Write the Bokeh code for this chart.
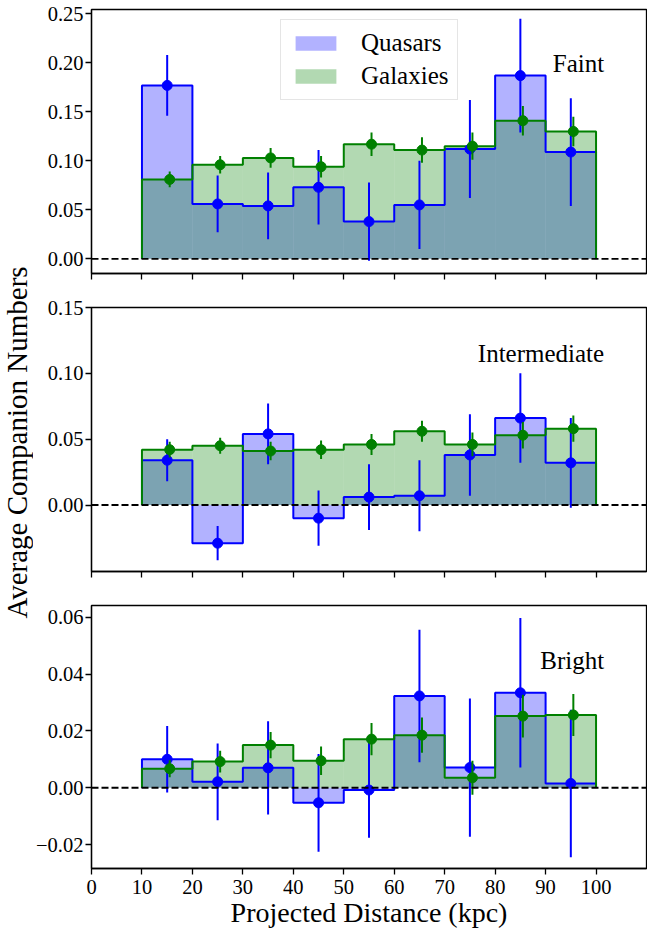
import numpy as np
from bokeh.plotting import figure
from bokeh.layouts import column, row
from bokeh.models import (Span, FixedTicker, CustomJSTickFormatter, Legend, LegendItem,
                          Range1d, Label, CustomLabelingPolicy)
from bokeh.embed import file_html
from bokeh.resources import INLINE
from bokeh.core.properties import value

# ---------------- data ----------------
bin_left = [10, 20, 30, 40, 50, 60, 70, 80, 90]
bin_right = [20, 30, 40, 50, 60, 70, 80, 90, 100]
bin_center = [15, 25, 35, 45, 55, 65, 75, 85, 95]

faint_qso = [0.177, 0.056, 0.054, 0.073, 0.038, 0.055, 0.112, 0.187, 0.109]
faint_qso_err = [0.031, 0.029, 0.034, 0.038, 0.040, 0.045, 0.050, 0.058, 0.055]
faint_gal = [0.081, 0.096, 0.103, 0.094, 0.117, 0.111, 0.115, 0.141, 0.130]
faint_gal_err = [0.008, 0.009, 0.010, 0.011, 0.012, 0.013, 0.014, 0.015, 0.015]

inter_qso = [0.034, -0.029, 0.054, -0.010, 0.006, 0.007, 0.038, 0.066, 0.032]
inter_qso_err = [0.016, 0.013, 0.023, 0.021, 0.025, 0.027, 0.031, 0.034, 0.034]
inter_gal = [0.042, 0.045, 0.041, 0.042, 0.046, 0.056, 0.046, 0.053, 0.058]
inter_gal_err = [0.006, 0.006, 0.007, 0.007, 0.008, 0.008, 0.009, 0.010, 0.010]

bright_qso = [0.0100, 0.0021, 0.0070, -0.0053, -0.0008, 0.0323, 0.0071, 0.0334, 0.0015]
bright_qso_err = [0.0117, 0.0135, 0.0164, 0.0172, 0.0168, 0.0233, 0.0243, 0.0263, 0.0259]
bright_gal = [0.0067, 0.0092, 0.0150, 0.0095, 0.0171, 0.0185, 0.0035, 0.0252, 0.0256]
bright_gal_err = [0.0030, 0.0038, 0.0046, 0.0050, 0.0057, 0.0062, 0.0060, 0.0075, 0.0074]

x_ticks = [0, 10, 20, 30, 40, 50, 60, 70, 80, 90, 100]
faint_ticks = [0.0, 0.05, 0.10, 0.15, 0.20, 0.25]
inter_ticks = [0.0, 0.05, 0.10, 0.15]
bright_ticks = [-0.02, 0.0, 0.02, 0.04, 0.06]

# ---------------- style ----------------
FONT = "Liberation Serif"
QCOL = "#0000ff"
GCOL = "#008000"
LEFT_W = 33
PANEL_W = 647 - LEFT_W
BORDER_L = 91 - LEFT_W
GAL_OFFSET = 0.5
TICK_FS = "20.5px"

fmt = CustomJSTickFormatter(code="return tick.toFixed(2).replace('-', '\u2212');")


def step_xy(vals):
    xs, ys = [bin_left[0]], [0.0]
    for l, r, v in zip(bin_left, bin_right, vals):
        xs += [l, r]
        ys += [v, v]
    xs.append(bin_right[-1])
    ys.append(0.0)
    return xs, ys


def make_panel(q, qe, g, ge, yr, yticks, name, name_y, height, btop, bbot,
               xlabels=False, legend=False):
    p = figure(width=PANEL_W, height=height, output_backend="svg", toolbar_location=None,
               x_range=Range1d(0, 110), y_range=Range1d(*yr),
               min_border_left=BORDER_L, min_border_right=1, min_border_top=btop,
               min_border_bottom=bbot)
    p.grid.visible = False
    p.outline_line_color = "black"
    p.outline_line_width = 1.3
    p.outline_line_alpha = 1
    p.background_fill_color = "white"

    qf = p.quad(left=bin_left, right=bin_right, bottom=0, top=q,
                fill_color=QCOL, fill_alpha=0.3, line_color=None)
    gf = p.quad(left=bin_left, right=bin_right, bottom=0, top=g,
                fill_color=GCOL, fill_alpha=0.3, line_color=None)
    p.add_layout(Span(location=0, dimension="width", line_color="black",
                      line_dash="7 3", line_width=1.8))
    xs, ys = step_xy(q)
    p.line(xs, ys, line_color=QCOL, line_width=2)
    xs, ys = step_xy(g)
    p.line(xs, ys, line_color=GCOL, line_width=2)

    qlo = [v - e for v, e in zip(q, qe)]
    qhi = [v + e for v, e in zip(q, qe)]
    p.segment(x0=bin_center, y0=qlo, x1=bin_center, y1=qhi, line_color=QCOL, line_width=2)
    p.scatter(bin_center, q, size=10, color=QCOL)
    gx = [c + GAL_OFFSET for c in bin_center]
    glo = [v - e for v, e in zip(g, ge)]
    ghi = [v + e for v, e in zip(g, ge)]
    p.segment(x0=gx, y0=glo, x1=gx, y1=ghi, line_color=GCOL, line_width=2)
    p.scatter(gx, g, size=10, color=GCOL)

    p.add_layout(Label(x=101.6, y=name_y, text=name, text_align="right",
                       text_baseline="alphabetic", text_font=FONT,
                       text_font_size="25px", text_color="black"))

    for ax in (p.xaxis[0], p.yaxis[0]):
        ax.axis_line_color = "black"
        ax.axis_line_width = 1.3
        ax.major_tick_line_color = "black"
        ax.major_tick_line_width = 1.3
        ax.major_tick_out = 6
        ax.major_tick_in = 0
        ax.minor_tick_out = 0
        ax.minor_tick_in = 0
        ax.major_label_text_font = FONT
        ax.major_label_text_font_size = TICK_FS
        ax.major_label_text_color = "black"
    p.xaxis.ticker = FixedTicker(ticks=x_ticks)
    p.yaxis.ticker = FixedTicker(ticks=yticks)
    p.yaxis.formatter = fmt
    p.yaxis.major_label_standoff = 2
    if xlabels:
        p.xaxis.axis_label = "Projected Distance (kpc)"
        p.xaxis.axis_label_text_font = FONT
        p.xaxis.axis_label_text_font_size = "28px"
        p.xaxis.axis_label_text_font_style = "normal"
        p.xaxis.axis_label_text_color = "black"
        p.xaxis.axis_label_standoff = 0
        p.xaxis.major_label_standoff = 5
    else:
        p.xaxis.major_label_text_font_size = "0px"
        p.xaxis.major_label_standoff = 0
        p.xaxis.major_label_policy = CustomLabelingPolicy(
            code="for (const i of Array.from(indices)) { indices.unset(i) } return indices")

    if legend:
        lg = Legend(items=[LegendItem(label="Quasars", renderers=[qf]),
                           LegendItem(label="Galaxies", renderers=[gf])],
                    location=(189, 173), orientation="vertical")
        lg.label_text_font = FONT
        lg.label_text_font_size = "25px"
        lg.label_text_color = "black"
        lg.glyph_width = 51
        lg.glyph_height = 18
        lg.label_height = 18
        lg.label_standoff = 20
        lg.padding = 9
        lg.spacing = 5
        lg.margin = 0
        lg.border_line_color = "#cccccc"
        lg.border_line_width = 1
        lg.background_fill_alpha = 0.8
        p.add_layout(lg)
    return p


p1 = make_panel(faint_qso, faint_qso_err, faint_gal, faint_gal_err, (-0.015, 0.2545),
                faint_ticks, "Faint", 0.199, 290, 9, 17, legend=True)
p2 = make_panel(inter_qso, inter_qso_err, inter_gal, inter_gal_err, (-0.0505, 0.15),
                inter_ticks, "Intermediate", 0.1147, 298, 17, 17)
p3 = make_panel(bright_qso, bright_qso_err, bright_gal, bright_gal_err, (-0.0284, 0.0641),
                bright_ticks, "Bright", 0.0448, 347, 17, 67, xlabels=True)

lab = figure(width=LEFT_W, height=930, output_backend="svg", toolbar_location=None,
             x_range=Range1d(0, LEFT_W), y_range=Range1d(0, 930),
             min_border=0)
lab.axis.visible = False
lab.grid.visible = False
lab.outline_line_color = None
lab.text(x=[16.5], y=[930 - 442], text=["Average Companion Numbers"], angle=np.pi / 2,
         text_align="center", text_baseline="middle", text_font=value(FONT),
         text_font_size="29px", text_color="black")

panels = column(p1, p2, p3, spacing=0)
layout = row(lab, panels, spacing=0)
open("out.html", "w").write(file_html(layout, INLINE))
